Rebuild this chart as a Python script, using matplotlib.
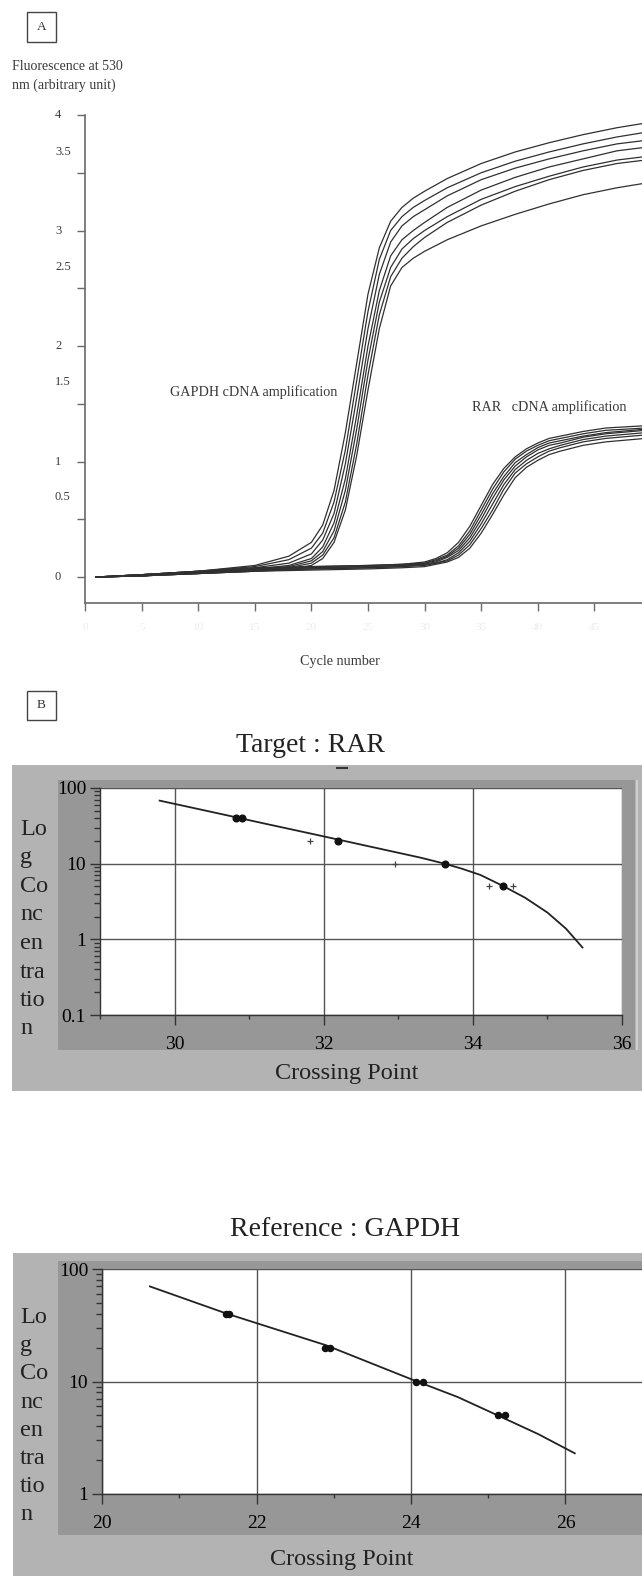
import matplotlib
matplotlib.use("Agg")
import matplotlib.pyplot as plt
from matplotlib.patches import Rectangle
from matplotlib.lines import Line2D
import matplotlib.ticker as mt

plt.rcParams['font.family'] = ['Liberation Serif', 'DejaVu Serif']

# ---------------- Panel A data (fluorescence vs cycle) ----------------
gapdh_cycles = [1, 5, 10, 15, 18, 20, 21, 22, 23, 24, 25, 26, 27, 28, 29, 30, 32, 35, 38, 41, 44, 47, 49.5]
gapdh_curve1 = [0.00, 0.02, 0.05, 0.10, 0.18, 0.30, 0.45, 0.75, 1.25, 1.85, 2.45, 2.85, 3.08, 3.20, 3.28, 3.34, 3.45, 3.58, 3.68, 3.76, 3.83, 3.89, 3.93]
gapdh_curve2 = [0.00, 0.02, 0.05, 0.09, 0.15, 0.25, 0.38, 0.65, 1.10, 1.70, 2.30, 2.75, 3.00, 3.12, 3.20, 3.26, 3.37, 3.50, 3.60, 3.68, 3.75, 3.81, 3.85]
gapdh_curve3 = [0.00, 0.02, 0.04, 0.08, 0.12, 0.20, 0.32, 0.55, 0.98, 1.55, 2.15, 2.62, 2.90, 3.04, 3.12, 3.18, 3.30, 3.44, 3.54, 3.62, 3.69, 3.75, 3.78]
gapdh_curve4 = [0.00, 0.01, 0.04, 0.07, 0.10, 0.16, 0.26, 0.47, 0.85, 1.40, 2.00, 2.48, 2.78, 2.92, 3.00, 3.07, 3.20, 3.35, 3.46, 3.55, 3.62, 3.69, 3.72]
gapdh_curve5 = [0.00, 0.01, 0.04, 0.06, 0.09, 0.14, 0.22, 0.40, 0.75, 1.28, 1.88, 2.38, 2.68, 2.84, 2.93, 3.00, 3.12, 3.27, 3.38, 3.47, 3.55, 3.61, 3.64]
gapdh_curve6 = [0.00, 0.01, 0.03, 0.06, 0.08, 0.12, 0.19, 0.34, 0.65, 1.15, 1.75, 2.27, 2.60, 2.76, 2.86, 2.94, 3.07, 3.22, 3.34, 3.44, 3.52, 3.58, 3.61]
gapdh_curve7 = [0.00, 0.01, 0.03, 0.05, 0.07, 0.10, 0.16, 0.30, 0.58, 1.05, 1.62, 2.15, 2.52, 2.68, 2.76, 2.82, 2.92, 3.04, 3.14, 3.23, 3.31, 3.37, 3.41]

rar_cycles = [1, 5, 10, 15, 20, 25, 28, 30, 31, 32, 33, 34, 35, 36, 37, 38, 39, 40, 41, 42, 44, 46, 49.5]
rar_curve1 = [0.0, 0.02, 0.05, 0.08, 0.09, 0.10, 0.11, 0.13, 0.16, 0.21, 0.30, 0.44, 0.62, 0.80, 0.94, 1.04, 1.11, 1.16, 1.20, 1.22, 1.26, 1.29, 1.31]
rar_curve2 = [0.0, 0.02, 0.05, 0.07, 0.09, 0.10, 0.11, 0.12, 0.15, 0.19, 0.27, 0.40, 0.58, 0.76, 0.91, 1.02, 1.09, 1.14, 1.18, 1.20, 1.24, 1.27, 1.29]
rar_curve3 = [0.0, 0.02, 0.04, 0.07, 0.08, 0.09, 0.10, 0.12, 0.14, 0.18, 0.25, 0.37, 0.54, 0.72, 0.87, 0.99, 1.06, 1.12, 1.16, 1.18, 1.22, 1.25, 1.28]
rar_curve4 = [0.0, 0.01, 0.04, 0.06, 0.08, 0.09, 0.10, 0.11, 0.13, 0.17, 0.23, 0.34, 0.50, 0.68, 0.84, 0.96, 1.04, 1.10, 1.14, 1.16, 1.21, 1.24, 1.27]
rar_curve5 = [0.0, 0.01, 0.04, 0.06, 0.07, 0.08, 0.09, 0.11, 0.12, 0.15, 0.21, 0.31, 0.46, 0.63, 0.80, 0.93, 1.01, 1.07, 1.11, 1.14, 1.19, 1.22, 1.25]
rar_curve6 = [0.0, 0.01, 0.03, 0.05, 0.07, 0.08, 0.09, 0.10, 0.12, 0.14, 0.19, 0.28, 0.42, 0.58, 0.76, 0.90, 0.98, 1.04, 1.09, 1.12, 1.17, 1.20, 1.23]
rar_curve7 = [0.0, 0.01, 0.03, 0.05, 0.06, 0.07, 0.08, 0.09, 0.11, 0.13, 0.17, 0.25, 0.38, 0.54, 0.71, 0.86, 0.95, 1.01, 1.06, 1.09, 1.14, 1.17, 1.20]

a_yticks_int = [0, 1, 2, 3, 4]
a_ylabels_half = ["0.5", "1.5", "2.5", "3.5"]
a_ylabel_half_pos = [0.69, 1.69, 2.68, 3.68]
a_xticks = [0, 5, 10, 15, 20, 25, 30, 35, 40, 45]

# ---------------- Panel B data (standard curves) ----------------
rar_std_x = [30.82, 30.90, 32.19, 33.62, 34.40]
rar_std_y = [40, 40, 20, 10, 5]
rar_plus_x = [31.82, 32.95, 34.22, 34.54]
rar_plus_y = [20, 10, 5, 5]
rar_fit_x = [29.8, 30.5, 31.2, 31.9, 32.6, 33.3, 33.62, 33.85, 34.1, 34.4, 34.7, 35.0, 35.25, 35.47]
rar_fit_y = [68.1, 48.2, 34.0, 24.1, 17.0, 12.0, 10.0, 8.6, 7.1, 5.1, 3.55, 2.26, 1.38, 0.78]
rar_xticks = [30, 32, 34, 36]
rar_yticks = [0.1, 1, 10, 100]
rar_ylabels = ["0.1", "1", "10", "100"]

gapdh_std_x = [21.60, 21.64, 22.89, 22.95, 24.07, 24.16, 25.12, 25.22]
gapdh_std_y = [40, 40, 20, 20, 10, 10, 5, 5]
gapdh_fit_x = [20.62, 21.62, 22.9, 24.0, 24.6, 25.15, 25.65, 26.12]
gapdh_fit_y = [70, 40, 21, 10.5, 7.3, 4.9, 3.4, 2.3]
gapdh_xticks = [20, 22, 24, 26]
gapdh_yticks = [1, 10, 100]
gapdh_ylabels = ["1", "10", "100"]

ylabel_lines = ["Lo", "g", "Co", "nc", "en", "tra", "tio", "n"]

# ---------------- Figure ----------------
W, H = 642, 1576
fig = plt.figure(figsize=(W / 100, H / 100), dpi=100)


def rect(l, t, r, b):
    return [l / W, 1 - b / H, (r - l) / W, (b - t) / H]


def fy(y):
    return 1 - y / H


def frect(l, t, r, b, color, z=-10):
    fig.add_artist(Rectangle((l / W, 1 - b / H), (r - l) / W, (b - t) / H,
                             transform=fig.transFigure, facecolor=color,
                             edgecolor='none', zorder=z))


def box_label(txt, l, t, r, b):
    fig.add_artist(Rectangle((l / W, 1 - b / H), (r - l) / W, (b - t) / H,
                             transform=fig.transFigure, facecolor='white',
                             edgecolor='#444444', lw=1.0, zorder=2))
    fig.text((l + r) / 2 / W, fy((t + b) / 2), txt, ha='center', va='center',
             fontsize=9.5, color='#333333')


box_label("A", 27, 12, 56, 42)
box_label("B", 27, 691, 56, 720)

# ---- Panel A ----
TXT_A = '#3a3a3a'
axA = fig.add_axes(rect(85, 115, 642, 603))
axA.set_xlim(0, (642 - 85) / 11.32)
axA.set_ylim(-0.225, 4.0)
for s in ['top', 'right']:
    axA.spines[s].set_visible(False)
for s in ['left', 'bottom']:
    axA.spines[s].set_color('#6a6a6a')
    axA.spines[s].set_linewidth(1.2)

for c in [gapdh_curve1, gapdh_curve2, gapdh_curve3, gapdh_curve4,
          gapdh_curve5, gapdh_curve6, gapdh_curve7]:
    axA.plot(gapdh_cycles, c, color='#303030', lw=0.9)
for c in [rar_curve1, rar_curve2, rar_curve3, rar_curve4,
          rar_curve5, rar_curve6, rar_curve7]:
    axA.plot(rar_cycles, c, color='#303030', lw=0.9)

axA.set_yticks([0, 0.5, 1, 1.5, 2, 2.5, 3, 3.5, 4])
axA.set_yticklabels([])
axA.set_xticks(a_xticks)
axA.set_xticklabels([])
axA.tick_params(axis='both', direction='out', length=6, width=1.0, color='#6a6a6a')

ytr = axA.get_yaxis_transform()
xoff = (55 - 85) / (642 - 85)
for v in a_yticks_int:
    axA.text(xoff, v, str(v), transform=ytr, ha='left', va='center',
             fontsize=9, color=TXT_A, clip_on=False)
for lab, v in zip(a_ylabels_half, a_ylabel_half_pos):
    axA.text(xoff, v, lab, transform=ytr, ha='left', va='center',
             fontsize=9, color=TXT_A, clip_on=False)
xtr = axA.get_xaxis_transform()
for v in a_xticks:
    axA.text(v, -0.04, str(v), transform=xtr, ha='center', va='top',
             fontsize=8, color='#ececec', clip_on=False)

fig.text(12 / W, fy(67), "Fluorescence at 530", ha='left', va='center',
         fontsize=10, color=TXT_A)
fig.text(12 / W, fy(85), "nm (arbitrary unit)", ha='left', va='center',
         fontsize=10, color=TXT_A)
fig.text(170 / W, fy(392), "GAPDH cDNA amplification", ha='left', va='center',
         fontsize=10.2, color=TXT_A)
fig.text(472 / W, fy(407), "RAR   cDNA amplification", ha='left', va='center',
         fontsize=10.2, color=TXT_A)
fig.text(340 / W, fy(662), "Cycle number", ha='center', va='center',
         fontsize=10.2, color=TXT_A)

LIGHT = '#b3b3b3'
DARK = '#979797'


def std_axes(ax, xlim, ylim, xticks, yticks, ylabels):
    ax.set_facecolor('white')
    ax.set_yscale('log')
    ax.set_xlim(*xlim)
    ax.set_ylim(*ylim)
    for s in ['top', 'right']:
        ax.spines[s].set_visible(False)
    for s in ['left', 'bottom']:
        ax.spines[s].set_color('#333333')
        ax.spines[s].set_linewidth(1.0)
    ax.set_xticks(xticks)
    ax.set_xticklabels([str(t) for t in xticks])
    minors = [t for t in range(int(xlim[0]), int(xlim[1]) + 1) if t % 2 == 1]
    ax.xaxis.set_minor_locator(mt.FixedLocator(minors))
    ax.set_yticks(yticks)
    ax.set_yticklabels(ylabels)
    ax.yaxis.set_minor_locator(mt.LogLocator(base=10, subs=(2, 3, 4, 5, 6, 7, 8, 9)))
    ax.yaxis.set_minor_formatter(mt.NullFormatter())
    ax.tick_params(axis='y', which='major', direction='out', length=7, width=1.0,
                   color='#333333', labelsize=14, pad=3)
    ax.tick_params(axis='y', which='minor', direction='out', length=4, width=1.0,
                   color='#333333')
    ax.tick_params(axis='x', which='major', direction='out', length=7, width=1.0,
                   color='#333333', labelsize=14, pad=8)
    ax.tick_params(axis='x', which='minor', direction='out', length=3, width=1.0,
                   color='#333333')
    ax.grid(True, which='major', color='#555555', lw=1.0)
    ax.set_axisbelow(True)


# ---- Panel B: Target RAR ----
frect(12, 765, 642, 1091, LIGHT)
frect(58, 780, 635, 1050, DARK)
frect(636, 780, 638, 1050, '#cfcfcf')
fig.add_artist(Line2D([337 / W, 347 / W], [fy(768), fy(768)], color='#333333',
                      lw=1.5, transform=fig.transFigure))
fig.text(311 / W, fy(745), "Target : RAR", ha='center', va='center',
         fontsize=20, color='#222222')

axR = fig.add_axes(rect(100, 788, 622, 1015))
std_axes(axR, (29, 36), (0.1, 100), rar_xticks, rar_yticks, rar_ylabels)
axR.plot(rar_fit_x, rar_fit_y, color='#222222', lw=1.3)
axR.plot(rar_std_x, rar_std_y, 'o', color='#111111', ms=4.8)
axR.plot(rar_plus_x, rar_plus_y, '+', color='#444444', ms=5, mew=0.9)
fig.text(347 / W, fy(1073), "Crossing Point", ha='center', va='center',
         fontsize=17.5, color='#222222')
for i, s in enumerate(ylabel_lines):
    fig.text(20 / W, fy(835 + 28.5 * i), s, ha='left', va='baseline',
             fontsize=17.5, color='#222222')

# ---- Panel B: Reference GAPDH ----
frect(13, 1253, 642, 1576, LIGHT)
frect(58, 1261, 700, 1535, DARK)
fig.text(345 / W, fy(1230), "Reference : GAPDH", ha='center', va='center',
         fontsize=20, color='#222222')

axG = fig.add_axes(rect(102, 1269, 720, 1494))
std_axes(axG, (20, 28), (1, 100), gapdh_xticks, gapdh_yticks, gapdh_ylabels)
axG.plot(gapdh_fit_x, gapdh_fit_y, color='#222222', lw=1.3)
axG.plot(gapdh_std_x, gapdh_std_y, 'o', color='#111111', ms=4.4)
fig.text(342 / W, fy(1560), "Crossing Point", ha='center', va='center',
         fontsize=17.5, color='#222222')
for i, s in enumerate(ylabel_lines):
    fig.text(20 / W, fy(1323 + 28.2 * i), s, ha='left', va='baseline',
             fontsize=17.5, color='#222222')

fig.savefig("out.png", dpi=100)
